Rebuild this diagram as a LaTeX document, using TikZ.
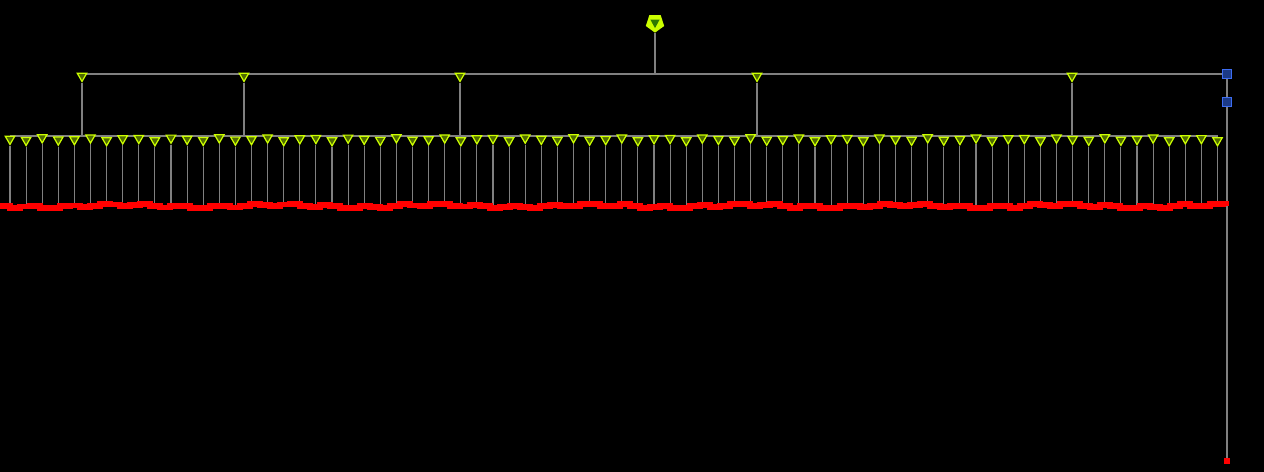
\documentclass[tikz,border=0pt]{standalone}
\usetikzlibrary{shapes.geometric,backgrounds}
\definecolor{leafgreen}{HTML}{CCFF00}
\definecolor{leaffill}{HTML}{4F6A00}
\definecolor{rootgreen}{HTML}{2F7A00}
\definecolor{boxblue}{HTML}{1C3A86}
\definecolor{boxedge}{HTML}{3D6DF2}
\definecolor{wiregray}{HTML}{808080}

\tikzset{
  tri/.style={regular polygon, regular polygon sides=3, shape border rotate=180,
    draw=leafgreen, fill=leaffill, line width=0.7pt, inner sep=0pt, minimum size=6.2pt},
  rootnode/.style={regular polygon, regular polygon sides=5, shape border rotate=180,
    fill=leafgreen, inner sep=0pt, minimum size=11pt,
    path picture={\fill[rootgreen] (path picture bounding box.center) ++(-2.6pt,2.4pt)
      -- ++(5.2pt,0) -- ++(-2.6pt,-4.8pt) -- cycle;}},
  bluebox/.style={draw=boxedge, fill=boxblue, line width=0.6pt, minimum size=4.8pt, inner sep=0pt},
  endbox/.style={fill=red, minimum size=3.4pt, inner sep=0pt},
  wire/.style={wiregray, line width=0.6pt}
}

\begin{document}
\begin{tikzpicture}[x=0.02cm, y=-0.02cm]
  \useasboundingbox (0,0) rectangle (1264,471);
  % root and first row
  \node[rootnode] (root) at (655,23) {};
  \coordinate (top) at (0,74);
  \coordinate (bus) at (0,136);
  \coordinate (floor) at (0,205);
  \foreach \x [count=\j] in {82,244,460,757,1072}
    \node[tri] (m\j) at (\x,76) {};
  \node[bluebox] (sq1) at (1227,74) {};
  \node[bluebox] (sq2) at (1227,102) {};
  \node[endbox] (end) at (1227,461) {};

  % leaves
  \foreach \i in {0,...,75}
    \node[tri] (l\i) at ({10+\i*16.1},{139+1.5*sin(\i*131)}) {};

  \begin{pgfonlayer}{background}
    \fill[black] (-5,-5) rectangle (1270,476);
    % wires
    \draw[wire] (root) -- (root |- top);
    \draw[wire] (m1 |- top) -- (sq1);
    \draw[wire] (sq1) -- (end);
    \foreach \j in {1,...,5}
      \draw[wire] (m\j) -- (m\j |- bus);
    \draw[wire] (l0 |- bus) -- (l75 |- bus);
    \foreach \i in {0,...,75}
      \draw[wire] (l\i) -- (l\i |- floor);
    % red band
    \draw[red, line width=3.3pt] (0,206)
      foreach \k in {1,...,122} { -| ({\k*10},{206+1.4*sin(\k*97)+1.2*sin(\k*23)}) } -| (1226,206);
  \end{pgfonlayer}
\end{tikzpicture}
\end{document}
